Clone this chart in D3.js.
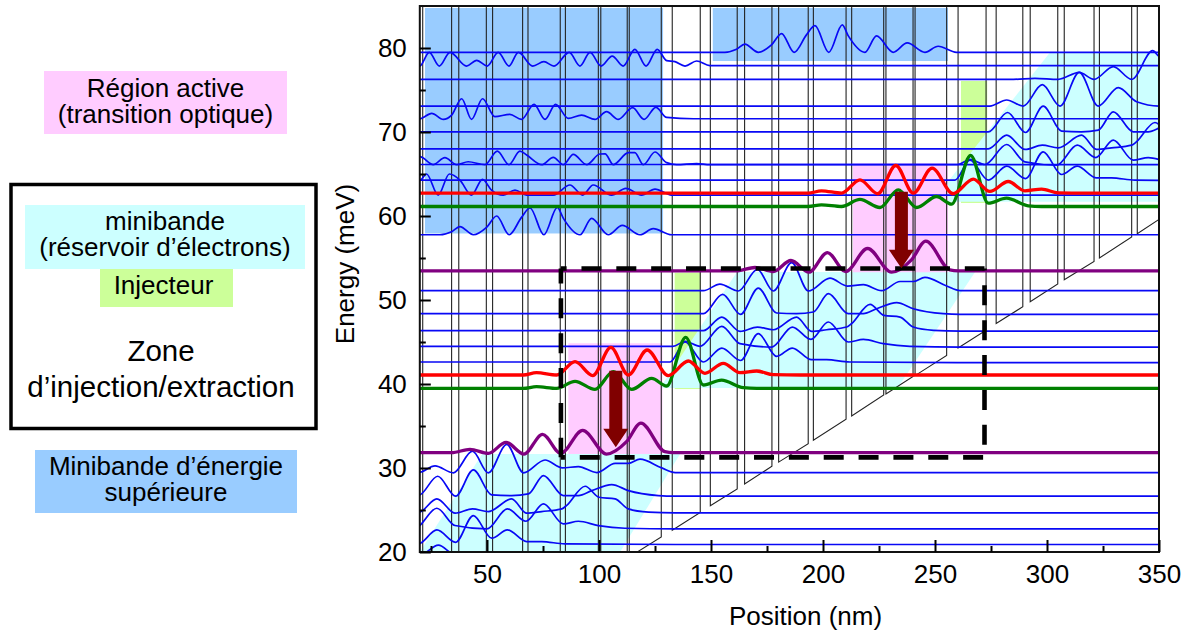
<!DOCTYPE html>
<html><head><meta charset="utf-8">
<script src="https://cdn.jsdelivr.net/npm/d3@7"></script>
<style>
html,body{margin:0;padding:0;background:#fff}
svg{display:block}
text{font-family:"Liberation Sans",Arial,sans-serif;fill:#000}
</style></head><body><div id="chart"></div>
<script>
// ---------- axes ----------
const xDomain = [20, 350];
const yDomain = [20, 85];
const xMajorTicks = [50, 100, 150, 200, 250, 300, 350];
const xMinorTicks = [25, 75, 125, 175, 225, 275, 325];
const yMajorTicks = [20, 30, 40, 50, 60, 70, 80];
const yMinorTicks = [25, 35, 45, 55, 65, 75];
const xTitle = "Position (nm)";
const yTitle = "Energy (meV)";

// ---------- one structural period of the cascade ----------
const periodNm = 127.2;
const periodMeV = 21.65;

// conduction band: [left wall nm, right wall nm, bottom at left meV, bottom at right meV]
const wells = [
  [21.3,34.2,3.7,5.9],[37.4,49.7,6.4,8.5],[52.5,65.9,9.0,11.3],[68.3,82.7,11.7,14.1],
  [85,99.7,14.5,17.0],[100.8,112.6,17.2,19.2],[113.5,127.8,19.4,21.8],[132.7,145.2,22.6,24.7],
  [149.7,161.7,25.5,27.5],[165,177.2,28.1,30.2],[180.2,193.4,30.7,32.9],[195.7,210.3,33.3,35.8],
  [212.8,227.1,36.2,38.7],[228.1,240.2,38.8,40.9],[241.1,255.2,41.0,43.4],[260.3,272.8,44.3,46.4],
  [277.3,289.2,47.2,49.2],[292.5,304.8,49.8,51.9],[307.7,321,52.4,54.6],[323.4,337.8,55.0,57.5],
  [340.3,350,57.9,59.6]
];
const barrierTop = 200;

// ---------- upper miniband wavefunctions ----------
const upper1 = [[20,77.85],[24.2,79.48],[28.7,77.85],[33.5,79.48],[40.9,77.85],[45.4,78.53],[50.1,77.85],[55,79.48],[59.8,77.85],[64,79.48],[70.4,77.85],[75.4,78.37],[79.9,77.85],[86.7,79.48],[91.5,77.85],[96,79.48],[100.9,77.85],[105.9,79.04],[110.8,77.85],[116,79.84],[121,77.85],[126,79.84],[130.2,78.49],[133.9,78.37],[138.4,77.85],[143.6,78.45],[149.5,77.9]];
const upper2 = [[20,71.58],[25.3,72.22],[30.5,71.5],[34.2,72.02],[38.7,73.96],[43.1,71.5],[48,73.96],[53.5,71.82],[60.2,72.1],[65.4,71.5],[71,73.29],[75.9,71.5],[80.6,73.29],[86.3,71.62],[92.2,72.02],[98.2,71.5],[103.4,72.42],[108.6,71.5],[115,72.89],[120.1,71.5],[125.4,72.93],[130.2,71.74],[142.1,71.58]];
const upper3 = [[20,67.06],[26,66.11],[31.2,66.94],[36.4,66.11],[41.6,66.46],[49.1,66.11],[54.6,67.73],[59.8,66.11],[64.7,67.73],[67.7,67.26],[74.4,66.11],[79.6,66.98],[84.1,66.11],[88.5,67.34],[94.5,66.11],[100.4,67.38],[102.7,67.4],[106.4,66.11],[113.1,67.54],[116,67.55],[119.8,66.11],[125,67.62],[130.2,66.35],[134.6,66.11],[143.6,66.23],[149.5,66.11]];
const upper4 = [[20,64.24],[23,65],[28.2,62.49],[33.2,65],[37.9,64.28],[43.1,62.49],[48,64.36],[52,63.09],[57.3,62.49],[62.5,63.09],[67.7,62.49],[79.6,62.49],[87,63.69],[92.7,62.49],[97.4,63.69],[105.6,62.49],[112,63.29],[119,62.49],[125,63.21],[132.4,62.49]];
const upper5 = [[20,57.77],[29,57.77],[34.2,58.13],[37.9,58.73],[43.9,57.77],[49.8,58.65],[54.3,60],[59.9,57.77],[65.4,59.84],[69.2,60.95],[75.4,57.77],[81.4,61.03],[84.1,59.72],[91.5,57.77],[96.7,59.72],[104.1,57.77],[110.4,58.88],[118.3,57.77],[124.2,58.49],[132.4,57.77]];
const upper5Lift = 21.72;

// ---------- injector / reservoir miniband wavefunctions ----------
const reservoir1 = [[146.6,51.11],[154,51.9],[162.2,51.07],[170.7,53.65],[177.8,51.07],[186,54.45],[193.5,51.07],[203.1,52.6],[210.9,51.66],[218,51.82],[226.2,51.11],[234.4,52.2],[240.3,52.2],[245.5,52.7],[255.2,51.66],[261.2,51.11]];
const reservoir2 = [[146.6,48.37],[155.2,50.67],[163.2,48.29],[171.1,51.42],[179.3,48.45],[188.2,48.37],[195.7,48.57],[202.4,50.75],[211.3,48.37],[218,48.37],[224,48.96],[232.9,49.68],[240.3,48.96],[253.7,48.37],[261.2,48.29]];
const reservoir3 = [[146.6,46.35],[154.8,47.97],[163,46.27],[170.7,46.78],[177.8,46.46],[188.2,47.97],[194.9,46.27],[201.6,46.46],[210.6,46.78],[212.8,47.2],[221,49.48],[227.2,48.17],[234.4,47.97],[240.3,46.78],[249.3,46.39],[261.2,46.3]];
const reservoir4 = [[133,44.48],[138.4,45.08],[145.1,44.48],[154.8,46.86],[162.9,44.8],[177.1,44.4],[186.3,46.78],[194.6,45.31],[202.4,47.38],[211.3,45],[218,45.31],[226.9,44.8],[238.8,44.48],[261.2,44.4]];
const reservoir5 = [[131.7,42.62],[138.4,45],[146.6,42.62],[154.8,44.28],[163.2,42.8],[171.1,45.99],[179.3,43.29],[186.3,44.28],[194.9,42.89],[201.6,42.89],[212,42.62],[261.2,42.54]];
const topRight1 = [[274.5,73.09],[282,73.81],[289.4,73.09],[297.9,75.63],[305.8,73.09],[314.4,77.1],[322.9,73.09],[331.8,75.28],[340,73.61],[350.4,73.09]];
const topRight2 = [[285,76.27],[294.6,76.39],[305,76.27],[314.4,77.1],[321,76.27],[329.6,77.78],[337.8,76.27],[347.2,79.68],[350.4,78.97]];

// ---------- laser states ----------
const upperLaser = [[66.2,41.07],[72.1,41.35],[81.1,41.07],[89.3,42.66],[97.2,41],[105.3,44.36],[113.1,41.07],[121.5,44.05],[130.9,41],[139.9,42.74],[147.3,41.27],[155.5,42.46],[162.9,41.35],[170.4,41.55],[177.8,41.11],[190,41.07]];
const injectorState = [[66.2,39.48],[72.1,39.68],[81.1,39.48],[89.3,40.32],[98.2,39.36],[106.4,41.47],[114.6,39.36],[123.5,40.67],[130.2,39.76],[138.7,45.55],[146.6,39.88],[154.7,40.47],[164.4,39.56],[170.4,39.48]];
const lowerLaser = [[34.2,31.82],[42.4,32.22],[50.6,31.74],[58.5,33.05],[66.5,31.66],[74.8,34],[82.9,31.74],[92.7,34.48],[103.4,31.66],[112.3,33.13],[118.7,35.35],[129.4,31.94],[133.2,31.82]];

// ---------- shaded regions, in nm and meV ----------
const blueRects = [[22.3,128.6,57.92,84.76],[150.8,255.8,78.45,84.76]];
const pinkRects = [[213.4,255.8,53.3,66.27],[86.3,128.3,31.67,44.85]];
const greenRects = [[261.6,273.3,61.55,76.07],[133.8,145.4,39.4,53.25]];
const cyanShapes = [
  [[248.7,61.7],[301.3,79.46],[350,79.46],[350,61.7]],
  [[127.2,39.52],[161.6,53.33],[267.9,53.33],[233.3,39.52]],
  [[20,20],[47.8,31.67],[136.2,31.67],[109.4,20]]
];
// ---------- extraction box and transitions ----------
const boxX = [83.0, 272.1];
const boxE = [31.27, 53.75];
const transitions = [[235,62.9,53.77],[107.5,41.58,32.47]];

// ---------- left-hand key ----------
const keyRects = [
  {x:44,y:71,w:243,h:63,fill:"#ffccff"},
  {x:25,y:205,w:280,h:64,fill:"#ccffff"},
  {x:100,y:269,w:133,h:38,fill:"#ccff99"},
  {x:35,y:450,w:262,h:63,fill:"#99ccff"}
];
const keyTexts = [
  {t:"Région active",x:165.5,y:97,s:26},
  {t:"(transition optique)",x:165.5,y:123,s:26},
  {t:"minibande",x:165,y:230,s:26},
  {t:"(réservoir d’électrons)",x:165,y:256,s:26},
  {t:"Injecteur",x:163.5,y:294,s:26},
  {t:"Zone",x:161,y:361,s:29.5},
  {t:"d’injection/extraction",x:161,y:397,s:29.5},
  {t:"Minibande d’énergie",x:166,y:475,s:26},
  {t:"supérieure",x:166,y:501,s:26}
];

// ---------- drawing ----------
const W = 1191, H = 632;
const plotL = 419.8, plotR = 1159, plotT = 6, plotB = 552;
const svg = d3.select("#chart").append("svg").attr("width", W).attr("height", H);
const x = d3.scaleLinear().domain(xDomain).range([plotL, plotR]);
const y = d3.scaleLinear().domain(yDomain).range([plotB, plotT]);

svg.append("defs").append("clipPath").attr("id","plot")
  .append("rect").attr("x",plotL).attr("y",plotT).attr("width",plotR-plotL).attr("height",plotB-plotT);

// key
svg.append("g").selectAll("rect").data(keyRects).join("rect")
  .attr("x",d=>d.x).attr("y",d=>d.y).attr("width",d=>d.w).attr("height",d=>d.h).attr("fill",d=>d.fill);
svg.append("rect").attr("x",11).attr("y",184.5).attr("width",305).attr("height",244)
  .attr("fill","none").attr("stroke","#000").attr("stroke-width",3.5);
svg.append("g").selectAll("text").data(keyTexts).join("text")
  .attr("x",d=>d.x).attr("y",d=>d.y).attr("font-size",d=>d.s).attr("text-anchor","middle").text(d=>d.t);

const plot = svg.append("g").attr("clip-path","url(#plot)");
const band = (rows, fill) => plot.append("g").selectAll("rect").data(rows).join("rect")
  .attr("x",d=>x(d[0])).attr("width",d=>x(d[1])-x(d[0]))
  .attr("y",d=>y(d[3])).attr("height",d=>y(d[2])-y(d[3])).attr("fill",fill);

band(blueRects,"#99ccff");
band(greenRects,"#ccff99");
plot.append("g").selectAll("path").data(cyanShapes).join("path")
  .attr("d",d=>d3.line().x(p=>x(p[0])).y(p=>y(p[1]))(d)+"Z").attr("fill","#ccffff");
band(pinkRects,"#ffccff");

// conduction band
plot.append("g").selectAll("path").data(wells).join("path")
  .attr("d",w=>d3.line().x(p=>x(p[0])).y(p=>y(p[1]))([[w[0],barrierTop],[w[0],w[2]],[w[1],w[3]],[w[1],barrierTop]]))
  .attr("fill","none").attr("stroke","#222").attr("stroke-width",1.1);

// wavefunctions
const wave = d3.line().x(p=>x(p[0])).y(p=>y(p[1])).curve(d3.curveMonotoneX);
const placed = (pts, k, lift) => {
  const e = lift === undefined ? k*periodMeV : lift;
  const dx = k*periodNm;
  const q = pts.map(p=>[p[0]+dx,p[1]+e]);
  return [[-300,q[0][1]],...q,[700,q[q.length-1][1]]];
};
const blue = [
  placed(upper1,0),placed(upper2,0),placed(upper3,0),placed(upper4,0),placed(upper5,0),
  placed(upper5,1,upper5Lift),placed(topRight1,0),placed(topRight2,0),
  placed(reservoir1,-1),placed(reservoir2,-1),placed(reservoir3,-1),placed(reservoir4,-1),placed(reservoir5,-1),
  placed(upperLaser,-1),
  placed(reservoir1,0),placed(reservoir2,0),placed(reservoir3,0),placed(reservoir4,0),placed(reservoir5,0),
  placed(reservoir2,1),placed(reservoir3,1),placed(reservoir4,1),placed(reservoir5,1)
];
plot.append("g").selectAll("path").data(blue).join("path")
  .attr("d",wave).attr("fill","none").attr("stroke","#0808f5").attr("stroke-width",1.7);

const thick = [
  [placed(lowerLaser,0),"#800080"],[placed(lowerLaser,1),"#800080"],
  [placed(injectorState,0),"#008000"],[placed(injectorState,1),"#008000"],
  [placed(upperLaser,0),"#ff0000"],[placed(upperLaser,1),"#ff0000"]
];
plot.append("g").selectAll("path").data(thick).join("path")
  .attr("d",d=>wave(d[0])).attr("fill","none").attr("stroke",d=>d[1]).attr("stroke-width",3.3);

// extraction box (dashed)
const dashes = [
  {p:[[boxX[0],boxE[1]],[boxX[1],boxE[1]]],o:14.3},
  {p:[[boxX[0],boxE[1]],[boxX[0],boxE[0]]],o:5},
  {p:[[boxX[0],boxE[0]],[boxX[1],boxE[0]]],o:16},
  {p:[[boxX[1],boxE[1]],[boxX[1],boxE[0]]],o:18}
];
svg.append("g").selectAll("path").data(dashes).join("path")
  .attr("d",d=>d3.line().x(p=>x(p[0])).y(p=>y(p[1]))(d.p))
  .attr("fill","none").attr("stroke","#000").attr("stroke-width",4.6)
  .attr("stroke-dasharray","20 14.85").attr("stroke-dashoffset",d=>d.o);

// transition arrows
svg.append("g").selectAll("path").data(transitions).join("path")
  .attr("fill","#800000")
  .attr("d",t=>{
    const cx=x(t[0]), y0=y(t[1]), y1=y(t[2]), hs=6.5, hh=12.5, hl=18.5;
    return d3.line()([[cx-hs,y0],[cx+hs,y0],[cx+hs,y1-hl],[cx+hh,y1-hl],[cx,y1],[cx-hh,y1-hl],[cx-hs,y1-hl]])+"Z";
  });

// frame and axes
svg.append("rect").attr("x",plotL).attr("y",plotT).attr("width",plotR-plotL).attr("height",plotB-plotT)
  .attr("fill","none").attr("stroke","#111").attr("stroke-width",2);

const styleAxis = g => { g.select(".domain").remove();
  g.selectAll("line").attr("stroke","#000").attr("stroke-width",2);
  g.selectAll("text").attr("font-size",26).attr("font-family",'"Liberation Sans",Arial,sans-serif').attr("fill","#000"); };

svg.append("g").attr("transform",`translate(0,${plotB})`)
  .call(d3.axisBottom(x).tickValues(xMajorTicks).tickFormat(d3.format("d")).tickSize(-12).tickPadding(13)).call(styleAxis);
svg.append("g").attr("transform",`translate(0,${plotB})`)
  .call(d3.axisBottom(x).tickValues(xMinorTicks).tickFormat("").tickSize(-6)).call(styleAxis);
svg.append("g").attr("transform",`translate(${plotL},0)`)
  .call(d3.axisLeft(y).tickValues(yMajorTicks).tickFormat(d3.format("d")).tickSize(-11).tickPadding(13)).call(styleAxis);
svg.append("g").attr("transform",`translate(${plotL},0)`)
  .call(d3.axisLeft(y).tickValues(yMinorTicks).tickFormat("").tickSize(-6)).call(styleAxis);

svg.append("text").attr("x",805.5).attr("y",625).attr("text-anchor","middle").attr("font-size",26).text(xTitle);
svg.append("text").attr("transform","translate(354,264) rotate(-90)").attr("text-anchor","middle").attr("font-size",26).text(yTitle);
</script></body></html>
